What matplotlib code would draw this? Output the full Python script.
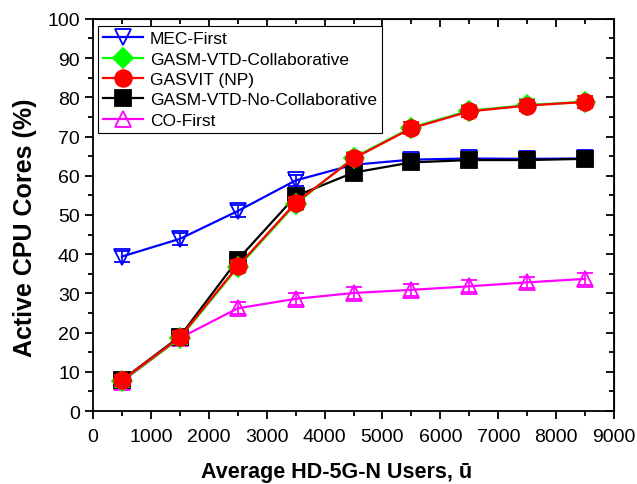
import matplotlib
matplotlib.use("Agg")
import matplotlib.pyplot as plt
from matplotlib.ticker import MultipleLocator

plt.rcParams['font.family'] = ['Liberation Sans', 'DejaVu Sans']

users = [500, 1500, 2500, 3500, 4500, 5500, 6500, 7500, 8500]

mec_first = [39.4, 43.9, 51.0, 58.8, 62.8, 64.1, 64.4, 64.3, 64.4]
gasm_collab = [7.6, 18.6, 36.6, 52.8, 64.6, 72.3, 76.6, 78.0, 78.9]
gasvit_np = [7.8, 18.8, 36.9, 53.1, 64.4, 72.1, 76.4, 77.9, 78.8]
gasm_no_collab = [7.9, 19.0, 38.6, 54.8, 60.8, 63.4, 64.0, 64.0, 64.3]
co_first = [7.5, 18.6, 26.2, 28.6, 30.1, 30.9, 31.8, 32.8, 33.7]

err = [1.5] * len(users)

fig = plt.figure(figsize=(6.37, 4.85), dpi=100)
ax = fig.add_axes([0.146, 0.1505, 0.818, 0.8085])

def draw(y, color, marker, label, filled, z):
    face = color if filled else 'none'
    h = ax.errorbar(users, y, yerr=err, color=color, lw=1.6, marker=marker,
                    ms=12 if marker != 'D' else 10, mfc=face, mec=color, mew=1.3,
                    capsize=6, elinewidth=1.2, capthick=1.2, label=label, zorder=z)
    return h[0]

h_co = draw(co_first, '#ff00ff', '^', 'CO-First', False, 2)
h_mec = draw(mec_first, '#0000ff', 'v', 'MEC-First', False, 3)
h_nc = draw(gasm_no_collab, 'black', 's', 'GASM-VTD-No-Collaborative', True, 4)
h_col = draw(gasm_collab, '#00ff00', 'D', 'GASM-VTD-Collaborative', True, 5)
h_gv = draw(gasvit_np, '#ff0000', 'o', 'GASVIT (NP)', True, 6)

ax.set_xlim(0, 9000)
ax.set_ylim(0, 100)
ax.xaxis.set_major_locator(MultipleLocator(1000))
ax.xaxis.set_minor_locator(MultipleLocator(500))
ax.yaxis.set_major_locator(MultipleLocator(10))
ax.yaxis.set_minor_locator(MultipleLocator(5))
ax.tick_params(which='both', direction='out', width=1.3, labelsize=14,
               top=False, right=False)
ax.tick_params(which='major', length=6)
ax.tick_params(which='minor', length=3.5)
ax.tick_params(axis='x', pad=6)
for s in ax.spines.values():
    s.set_linewidth(1.3)

# inward ticks on the top and right edges
ax_t = ax.secondary_xaxis('top')
ax_t.xaxis.set_major_locator(MultipleLocator(1000))
ax_t.xaxis.set_minor_locator(MultipleLocator(500))
ax_t.tick_params(which='both', direction='in', width=1.3, labeltop=False)
ax_t.tick_params(which='major', length=6)
ax_t.tick_params(which='minor', length=3.5)
ax_r = ax.secondary_yaxis('right')
ax_r.yaxis.set_major_locator(MultipleLocator(10))
ax_r.yaxis.set_minor_locator(MultipleLocator(5))
ax_r.tick_params(which='both', direction='in', width=1.3, labelright=False)
ax_r.tick_params(which='major', length=6)
ax_r.tick_params(which='minor', length=3.5)

ax.set_xlabel('Average HD-5G-N Users, \u016b', fontsize=15.5, fontweight='bold')
ax.set_ylabel('Active CPU Cores (%)', fontsize=18, fontweight='bold')
ax.xaxis.set_label_coords(0.468, -0.128)
ax.yaxis.set_label_coords(-0.108, 0.469)

leg = ax.legend([h_mec, h_col, h_gv, h_nc, h_co],
                ['MEC-First', 'GASM-VTD-Collaborative', 'GASVIT (NP)',
                 'GASM-VTD-No-Collaborative', 'CO-First'],
                loc='upper left', bbox_to_anchor=(0.0096, 0.982), borderaxespad=0,
                fontsize=12.5, fancybox=False, framealpha=1, edgecolor='black',
                handlelength=2.3, labelspacing=0.3, handletextpad=0.4,
                borderpad=0.3)
leg.get_frame().set_linewidth(0.8)

fig.savefig('out.png', dpi=100)
